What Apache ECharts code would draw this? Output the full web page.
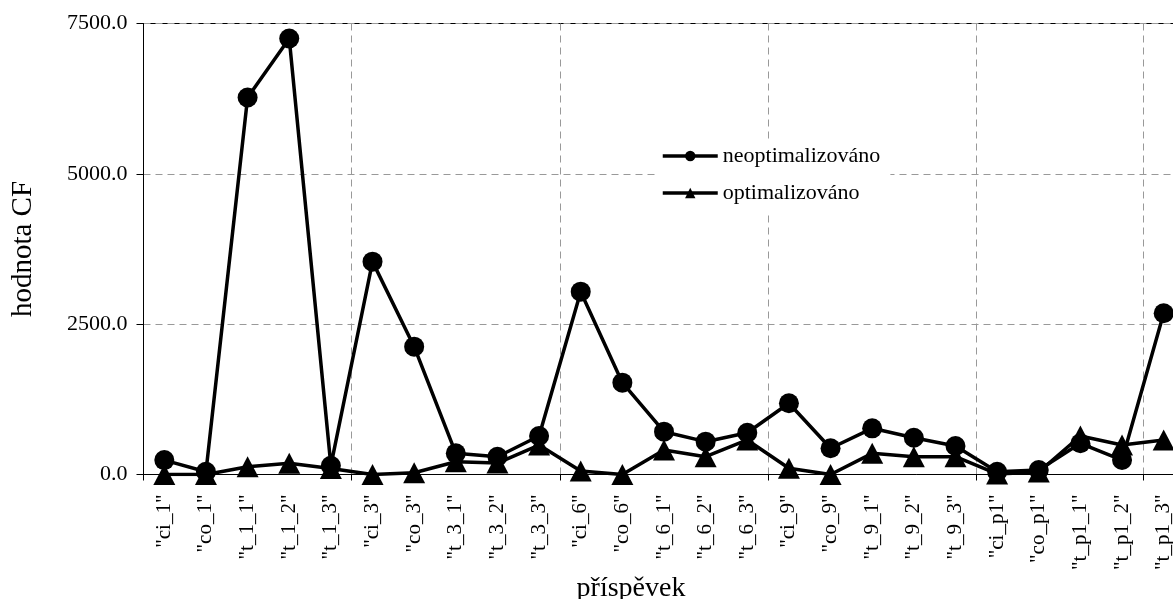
<!DOCTYPE html>
<html><head><meta charset="utf-8">
<script src="https://cdn.jsdelivr.net/npm/echarts@6/dist/echarts.min.js"></script>
<style>html,body{margin:0;padding:0;background:#fff}#c{width:1173px;height:599px}</style>
</head><body><div id="c"></div>
<script>
const categories = ['"ci_1"','"co_1"','"t_1_1"','"t_1_2"','"t_1_3"','"ci_3"','"co_3"','"t_3_1"','"t_3_2"','"t_3_3"','"ci_6"','"co_6"','"t_6_1"','"t_6_2"','"t_6_3"','"ci_9"','"co_9"','"t_9_1"','"t_9_2"','"t_9_3"','"ci_p1"','"co_p1"','"t_p1_1"','"t_p1_2"','"t_p1_3"'];
const neoptimalizovano = [240, 45, 6270, 7250, 146, 3540, 2126, 352, 296, 640, 3040, 1527, 712, 546, 695, 1184, 436, 768, 612, 474, 45, 75, 519, 241, 2681];
const optimalizovano = [0, 0, 130, 186, 100, 0, 30, 213, 190, 490, 60, 0, 407, 296, 574, 103, 0, 352, 296, 296, 10, 40, 640, 490, 574];
const seriesNames = ['neoptimalizováno', 'optimalizováno'];
const yTicks = { min: 0, max: 7500, interval: 2500 };
const xTitle = 'příspěvek';
const yTitle = 'hodnota CF';

const font = 'Liberation Serif';
const chart = echarts.init(document.getElementById('c'), null, { renderer: 'canvas' });
chart.setOption({
  backgroundColor: '#fff',
  animation: false,
  textStyle: { fontFamily: font, color: '#000' },
  grid: { left: 143.5, top: 23.5, right: -11.5, bottom: 124.5, show: true, borderColor: '#000', borderWidth: 1,
          containLabel: false, outerBoundsMode: 'none' },
  legend: {
    orient: 'vertical', left: 655, top: 139, backgroundColor: '#fff',
    padding: [6, 10, 8, 6], itemGap: 15, itemWidth: 55, itemHeight: 13,
    lineStyle: { width: 3.5 },
    textStyle: { fontFamily: font, fontSize: 22, color: '#000' },
    data: seriesNames
  },
  xAxis: {
    type: 'category', data: categories, boundaryGap: true,
    name: xTitle, nameLocation: 'middle', nameGap: 100, nameMoveOverlap: false,
    nameTextStyle: { fontFamily: font, fontSize: 28, color: '#000', padding: [0, 66, 0, 0] },
    axisLine: { lineStyle: { color: '#000', width: 1 } },
    axisTick: { show: true, interval: 4, length: 6, lineStyle: { color: '#000' } },
    axisLabel: { interval: 0, rotate: 90, margin: 20, fontFamily: font, fontSize: 21, color: '#000' },
    splitLine: { show: true, interval: 4, lineStyle: { color: '#999', type: [7, 5], width: 1 } }
  },
  yAxis: {
    type: 'value', min: yTicks.min, max: yTicks.max, interval: yTicks.interval,
    name: yTitle, nameLocation: 'middle', nameGap: 106, nameMoveOverlap: false,
    nameTextStyle: { fontFamily: font, fontSize: 29, color: '#000' },
    axisLine: { show: true, lineStyle: { color: '#000', width: 1 } },
    axisTick: { show: true, length: 7, lineStyle: { color: '#000' } },
    axisLabel: { margin: 16, fontFamily: font, fontSize: 22, color: '#000', formatter: v => v.toFixed(1) },
    splitLine: { show: true, lineStyle: { color: '#999', type: [7, 5], width: 1 } }
  },
  series: [
    { name: seriesNames[1], type: 'line', data: optimalizovano, symbol: 'triangle', symbolSize: [22, 21],
      itemStyle: { color: '#000' }, lineStyle: { color: '#000', width: 3.5 }, z: 2 },
    { name: seriesNames[0], type: 'line', data: neoptimalizovano, symbol: 'circle', symbolSize: 20,
      itemStyle: { color: '#000' }, lineStyle: { color: '#000', width: 3.5 }, z: 3 }
  ]
});
</script></body></html>
